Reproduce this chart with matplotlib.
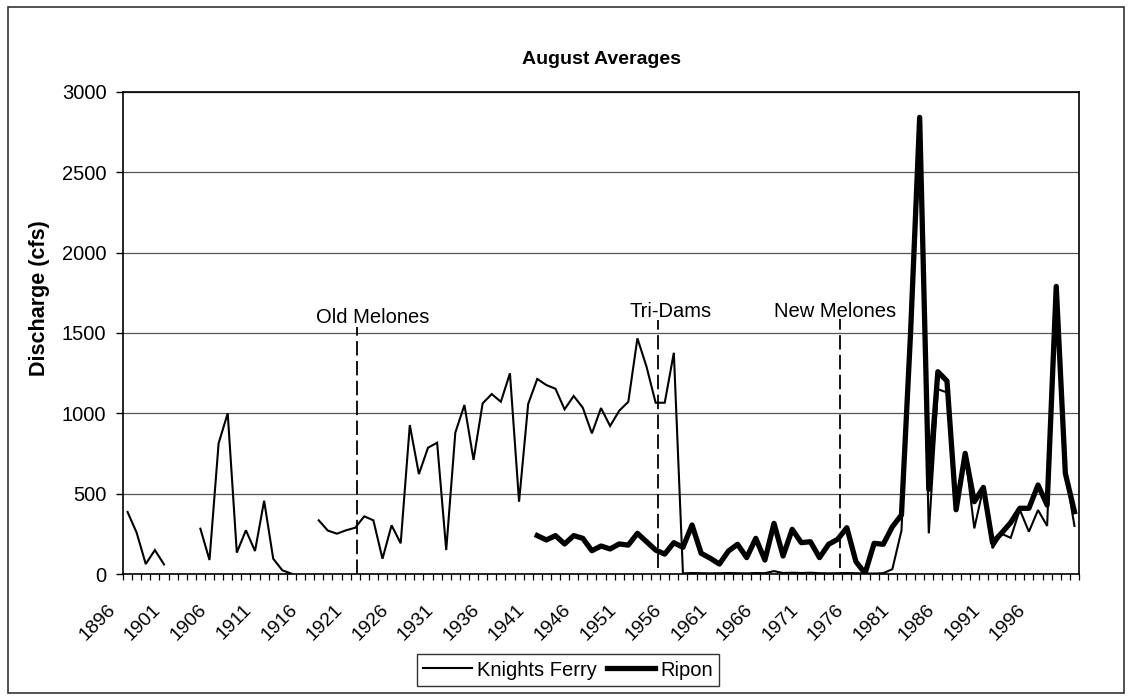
import numpy as np
import matplotlib
matplotlib.use("Agg")
import matplotlib.pyplot as plt
from matplotlib.transforms import ScaledTranslation
from matplotlib.patches import Rectangle

plt.rcParams['font.family'] = ['Liberation Sans', 'DejaVu Sans']

years = list(range(1896, 2001))
nan = np.nan
knights_ferry = [
    386, 257, 62, 149, 60, nan, nan, nan, 282, 87,          # 1896-1905
    813, 1000, 133, 272, 143, 456, 95, 23, 2, nan,          # 1906-1915
    nan, 334, 270, 251, 272, 288, 359, 334, 95, 303,        # 1916-1925
    191, 927, 622, 786, 817, 149, 880, 1052, 710, 1062,     # 1926-1935
    1120, 1072, 1249, 450, 1058, 1214, 1176, 1153, 1025, 1108,  # 1936-1945
    1035, 875, 1033, 921, 1016, 1072, 1467, 1290, 1066, 1066,   # 1946-1955
    1377, 4, 6, 5, 4, 5, 6, 5, 4, 6,                        # 1956-1965
    5, 18, 6, 8, 6, 8, 5, 4, 5, 6,                          # 1966-1975
    5, 3, 3, 5, 30, 270, 1500, 2842, 253, 1150,             # 1976-1985
    1130, 390, 751, 284, 539, 160, 250, 225, 400, 263,      # 1986-1995
    398, 299, 1790, 640, 299,                               # 1996-2000
]
ripon = [nan] * 45 + [
    239, 212, 239, 187, 239,                                # 1941-1945
    222, 145, 174, 156, 187, 180, 253, 201, 149, 124,       # 1946-1955
    195, 166, 305, 129, 98, 62, 143, 185, 102, 222,         # 1956-1965
    87, 315, 112, 278, 195, 201, 102, 185, 216, 288,        # 1966-1975
    77, 4, 191, 185, 294, 367, 1500, 2842, 527, 1259,       # 1976-1985
    1201, 400, 751, 450, 539, 195, 255, 320, 409, 409,      # 1986-1995
    554, 429, 1790, 627, 388,                               # 1996-2000
]
events = ["Old Melones", "Tri-Dams", "New Melones"]
event_pos = [25.23, 58.29, 78.3]
event_text_pos = [26.96, 59.6, 77.7]
y_ticks = [0, 500, 1000, 1500, 2000, 2500, 3000]

W, H = 1132, 700
fig = plt.figure(figsize=(W / 100, H / 100), dpi=100)
ax = fig.add_axes([123 / W, 1 - 574 / H, 956 / W, 482 / H])

x = np.arange(len(years))
ax.plot(x, knights_ferry, color='black', lw=1.5, label='Knights Ferry', solid_joinstyle='miter')
ax.plot(x, ripon, color='black', lw=3.8, label='Ripon', solid_joinstyle='round')

ax.set_xlim(-0.5, len(years) - 0.5)
ax.set_ylim(0, 3000)
ax.set_yticks(y_ticks)
ax.yaxis.grid(True, color='#555555', lw=0.9)
ax.set_axisbelow(True)
ax.tick_params(axis='y', length=5, width=1, pad=7, labelsize=14.5, direction='out')

major = x[::5]
ax.set_xticks(major)
ax.set_xticklabels([str(years[i]) for i in major])
ax.set_xticks(np.arange(len(years) + 1) - 0.5, minor=True)
ax.tick_params(axis='x', which='major', length=0, pad=24, labelsize=14)
ax.tick_params(axis='x', which='minor', length=4, width=0.9, direction='out')
plt.setp(ax.get_xticklabels(), rotation=45, ha='right', va='center', rotation_mode='anchor')
off = ScaledTranslation(-14.8 / 100, 0, fig.dpi_scale_trans)
for lab in ax.get_xticklabels():
    lab.set_transform(lab.get_transform() + off)

for s in ax.spines.values():
    s.set_color('black')
    s.set_linewidth(1.2)

tops = [1539, 1580, 1587]
bottoms = [0, 37, 37]
text_y = [1562, 1599, 1599]
for name, xp, xt, t, b, ty in zip(events, event_pos, event_text_pos, tops, bottoms, text_y):
    ax.plot([xp, xp], [b, t], color='black', lw=1.3, dashes=(8, 3))
    ax.text(xt, ty, name, ha='center', va='baseline', fontsize=14.5)

fig.text(601 / W, 1 - 60 / H, 'August Averages', ha='center', va='center',
         fontsize=14, fontweight='bold')
fig.text(40 / W, 1 - 298 / H, 'Discharge (cfs)', ha='center', va='center',
         rotation=90, fontsize=15.5, fontweight='bold')

leg = fig.legend(loc='center', bbox_to_anchor=(568 / W, 1 - 670 / H), ncol=2,
                 frameon=True, fancybox=False, fontsize=14.5, handlelength=2.4,
                 handletextpad=0.25, columnspacing=0.5, borderpad=0.3,
                 borderaxespad=0)
leg.get_frame().set_edgecolor('black')
leg.get_frame().set_linewidth(1.0)

fig.patches.append(Rectangle((8 / W, 7 / H), (1124 - 8) / W, (693 - 7) / H,
                             transform=fig.transFigure, fill=False,
                             edgecolor='#333333', lw=1.2))

fig.savefig('out.png', dpi=100)
